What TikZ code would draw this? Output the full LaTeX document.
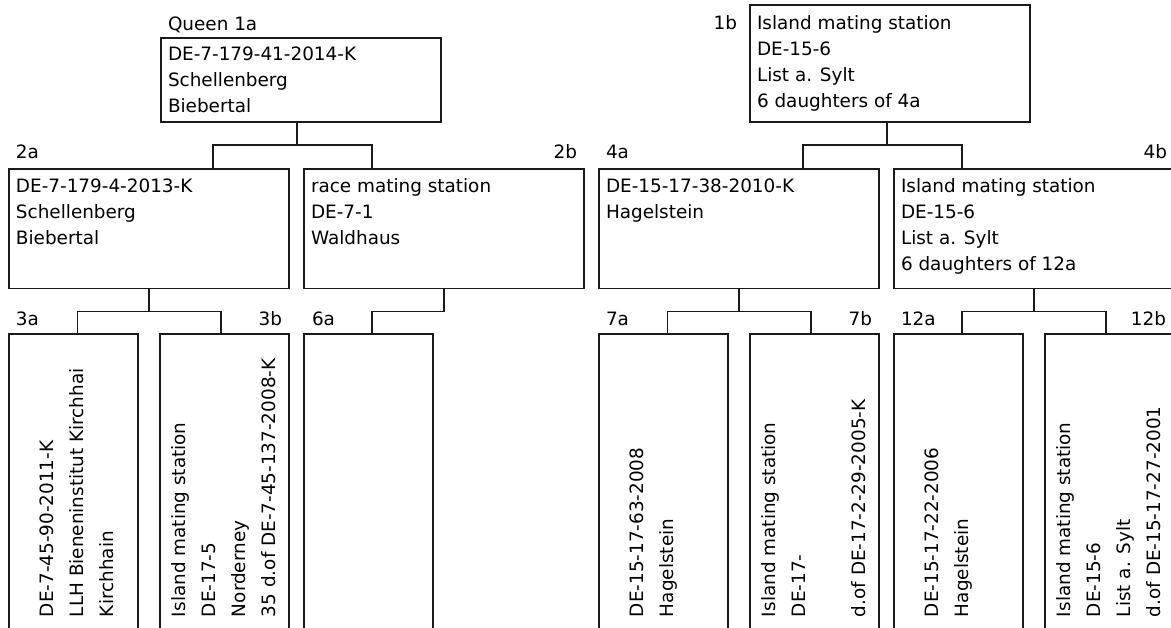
\documentclass[tikz,border=0pt]{standalone}
\usepackage{fontspec}
\setmainfont{DejaVu Sans}
\newcommand{\mlh}[1]{\vtop{\baselineskip=26pt\lineskiplimit=-100pt\lineskip=0pt\halign{##\hfil\cr#1\crcr}}}
\newcommand{\mlv}[1]{\vtop{\baselineskip=30pt\lineskiplimit=-100pt\lineskip=0pt\halign{##\hfil\cr#1\crcr}}}
\definecolor{lc}{HTML}{1A1A1A}
\definecolor{tc}{HTML}{000000}
\tikzset{
  every node/.style={font=\fontsize{18.4pt}{26pt}\selectfont},
  box/.style={draw=lc, line width=1.3pt, inner sep=0pt, outer sep=0pt, anchor=north west},
  wbox/.style={box, minimum width=280pt},
  nbox/.style={box, minimum width=129pt, minimum height=320pt},
  txt/.style={inner sep=0pt, outer sep=0pt, anchor=base west, text=tc},
  rtxt/.style={txt, rotate=90},
  lblr/.style={inner sep=0pt, outer sep=0pt, anchor=base east, text=tc},
  conn/.style={draw=lc, line width=1.3pt}
}
\begin{document}
\begin{tikzpicture}[x=1pt,y=-1pt]
\useasboundingbox (0,0) rectangle (1171,628);
\fill[white] (0,0) rectangle (1171,628);
\clip (0,0) rectangle (1171,628);

% ---------- level 1 ----------
\node[wbox, minimum height=84pt] (n1a) at (161,38) {};
\node[wbox, minimum height=117pt] (n1b) at (750,5) {};
\node[txt] (l1a) at (168,31) {Queen 1a};
\node[lblr] (l1b) at (737,30) {1b};
\node[txt] (t1a) at (168,61) {\mlh{DE-7-179-41-2014-K\cr Schellenberg\cr Biebertal}};
\node[txt] (t1b) at (757,30) {\mlh{Island mating station\cr DE-15-6\cr List a. Sylt\cr 6 daughters of 4a}};

% ---------- level 2 ----------
\node[wbox, minimum height=119.5pt] (n2a) at (9,169) {};
\node[wbox, minimum height=119.5pt] (n2b) at (304,169) {};
\node[wbox, minimum height=119.5pt] (n4a) at (599,169) {};
\node[wbox, minimum height=119.5pt] (n4b) at (894,169) {};
\node[txt] (l2a) at (16,158.5) {2a};
\node[lblr] (l2b) at (577,158.5) {2b};
\node[txt] (l4a) at (606,158.5) {4a};
\node[lblr] (l4b) at (1167,158.5) {4b};
\node[txt] (t2a) at (16,193) {\mlh{DE-7-179-4-2013-K\cr Schellenberg\cr Biebertal}};
\node[txt] (t2b) at (311,193) {\mlh{race mating station\cr DE-7-1\cr Waldhaus}};
\node[txt] (t4a) at (606,193) {\mlh{DE-15-17-38-2010-K\cr Hagelstein}};
\node[txt] (t4b) at (901,193) {\mlh{Island mating station\cr DE-15-6\cr List a. Sylt\cr 6 daughters of 12a}};

% ---------- level 3 ----------
\node[nbox] (n3a) at (9,334) {};
\node[nbox] (n3b) at (160,334) {};
\node[nbox] (n6a) at (304,334) {};
\node[nbox] (n7a) at (599,334) {};
\node[nbox] (n7b) at (750,334) {};
\node[nbox] (n12a) at (894,334) {};
\node[nbox] (n12b) at (1045,334) {};
\node[txt] (l3a) at (16,325.5) {3a};
\node[lblr] (l3b) at (282,325.5) {3b};
\node[txt] (l6a) at (312,325.5) {6a};
\node[txt] (l7a) at (606,325.5) {7a};
\node[lblr] (l7b) at (872,325.5) {7b};
\node[txt] (l12a) at (901,325.5) {12a};
\node[lblr] (l12b) at (1166,325.5) {12b};
\node[rtxt] (t3a) at (53.5,617) {\mlv{DE-7-45-90-2011-K\cr LLH Bieneninstitut Kirchhai\cr Kirchhain}};
\node[rtxt] (t3b) at (185,617) {\mlv{Island mating station\cr DE-17-5\cr Norderney\cr 35 d.of DE-7-45-137-2008-K}};
\node[rtxt] (t7a) at (643.5,617) {\mlv{DE-15-17-63-2008\cr Hagelstein}};
\node[rtxt] (t7b) at (775,617) {\mlv{Island mating station\cr DE-17-\cr\cr d.of DE-17-2-29-2005-K}};
\node[rtxt] (t12a) at (938.5,617) {\mlv{DE-15-17-22-2006\cr Hagelstein}};
\node[rtxt] (t12b) at (1070,617) {\mlv{Island mating station\cr DE-15-6\cr List a. Sylt\cr d.of DE-15-17-27-2001}};

% ---------- connectors level 1 -> 2 ----------
\coordinate (s1a) at (297,145);
\coordinate (b2a) at (213,145);
\coordinate (b2b) at (372,145);
\draw[conn] (n1a.south -| s1a) -- (s1a);
\draw[conn] (n2a.north -| b2a) -- (b2a) -- (b2b) -- (n2b.north -| b2b);

\coordinate (s1b) at (887,145);
\coordinate (b4a) at (803,145);
\coordinate (b4b) at (962,145);
\draw[conn] (n1b.south -| s1b) -- (s1b);
\draw[conn] (n4a.north -| b4a) -- (b4a) -- (b4b) -- (n4b.north -| b4b);

% ---------- connectors level 2 -> 3 ----------
\coordinate (s2a) at (149,311.5);
\coordinate (b3a) at (77.5,311.5);
\coordinate (b3b) at (221,311.5);
\draw[conn] (n2a.south -| s2a) -- (s2a);
\draw[conn] (n3a.north -| b3a) -- (b3a) -- (b3b) -- (n3b.north -| b3b);

\coordinate (s2b) at (444,311.5);
\coordinate (b6a) at (372,311.5);
\draw[conn] (n2b.south -| s2b) -- (s2b) -- (b6a) -- (n6a.north -| b6a);

\coordinate (s4a) at (739,311.5);
\coordinate (b7a) at (667.5,311.5);
\coordinate (b7b) at (811,311.5);
\draw[conn] (n4a.south -| s4a) -- (s4a);
\draw[conn] (n7a.north -| b7a) -- (b7a) -- (b7b) -- (n7b.north -| b7b);

\coordinate (s4b) at (1034,311.5);
\coordinate (b12a) at (962,311.5);
\coordinate (b12b) at (1106,311.5);
\draw[conn] (n4b.south -| s4b) -- (s4b);
\draw[conn] (n12a.north -| b12a) -- (b12a) -- (b12b) -- (n12b.north -| b12b);
\end{tikzpicture}
\end{document}
